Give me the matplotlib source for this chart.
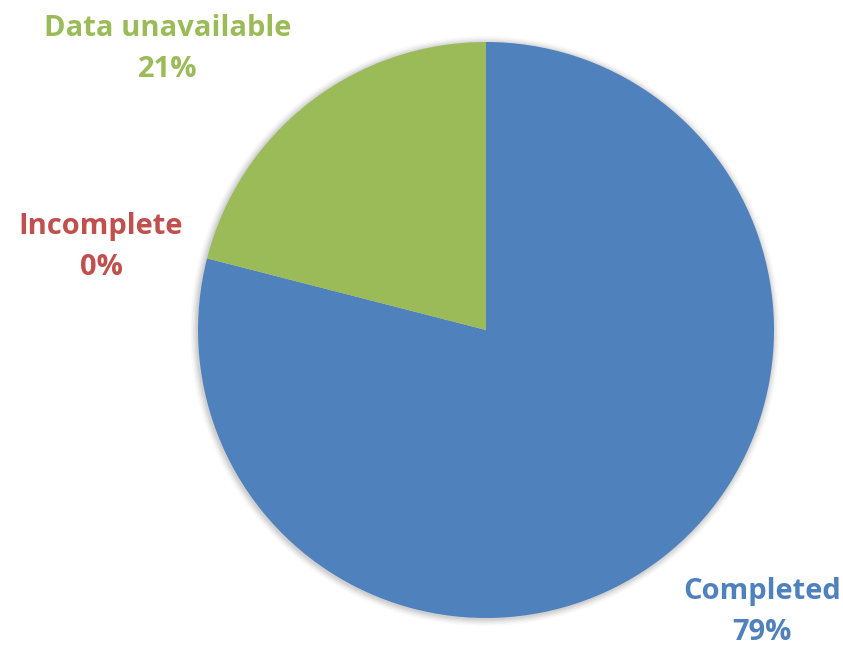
import matplotlib.pyplot as plt
from matplotlib.patches import Circle

labels = ['Completed', 'Incomplete', 'Data unavailable']
shares = [79, 0, 21]
colors = ['#4F81BD', '#C0504D', '#9BBB59']

fig = plt.figure(figsize=(8.43, 6.51), dpi=100)
ax = fig.add_axes([0, 0, 1, 1])
ax.set_xlim(0, 843)
ax.set_ylim(0, 651)
ax.set_aspect('equal')
ax.axis('off')

cx, cy, r = 486, 321, 288

# soft shadow around the rim
for i, a in enumerate([0.05, 0.05, 0.04, 0.03, 0.02]):
    ax.add_patch(Circle((cx - 1, cy - 1), r + 1 + i * 1.5, color='black',
                        alpha=a, lw=0, zorder=0))

ax.pie(shares, colors=colors, startangle=90, counterclock=False,
       center=(cx, cy), radius=r, frame=True,
       wedgeprops=dict(linewidth=0, zorder=2))
ax.set_xlim(0, 843)
ax.set_ylim(0, 651)
ax.axis('off')

font = dict(family='Open Sans', weight='bold', fontsize=21,
            ha='center', va='center', linespacing=1.55)
label_pos = [(762, 612), (101, 247), (168, 49)]
for lab, val, col, (x, y) in zip(labels, shares, colors, label_pos):
    ax.text(x, 651 - y, f'{lab}\n{val}%', color=col, **font)

fig.savefig('out.png', dpi=100)
